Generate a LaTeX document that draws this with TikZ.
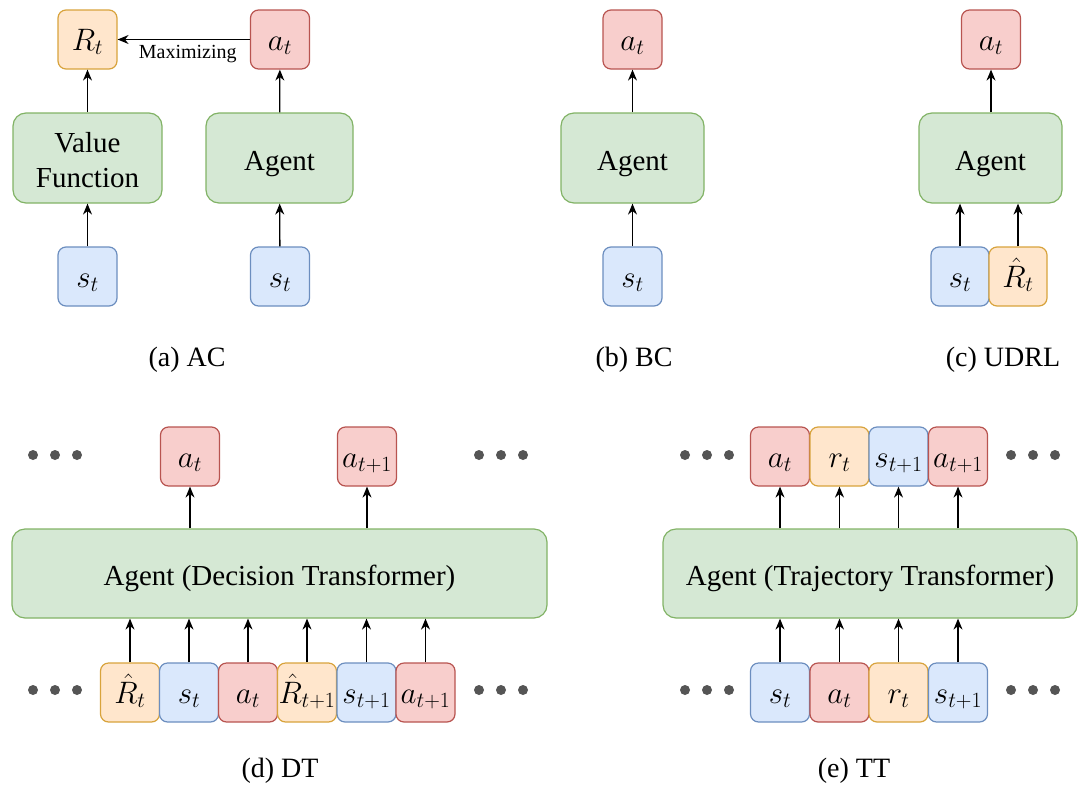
\RequirePackage{fix-cm}
\documentclass[tikz,border=0pt]{standalone}
\usepackage[no-math]{fontspec}
\setmainfont{Liberation Serif}
\usetikzlibrary{arrows.meta}
\definecolor{gfill}{HTML}{D5E8D4}
\definecolor{gdraw}{HTML}{82B366}
\definecolor{rfill}{HTML}{F8CECC}
\definecolor{rdraw}{HTML}{B85450}
\definecolor{bfill}{HTML}{DAE8FC}
\definecolor{bdraw}{HTML}{6C8EBF}
\definecolor{ofill}{HTML}{FFE6CC}
\definecolor{odraw}{HTML}{D8A33C}
\definecolor{dotc}{HTML}{555555}
\newcommand\fsbox{\fontsize{29}{35}\selectfont}
\newcommand\fsmath{\fontsize{31}{36}\selectfont}
\newcommand\fscap{\fontsize{28}{32}\selectfont}
\newcommand\fslab{\fontsize{20}{24}\selectfont}
\tikzset{
  sq/.style={rectangle, rounded corners=8pt, minimum width=59pt, minimum height=59pt, line width=1.2pt, inner sep=0pt, font=\fsmath, text height=26pt, text depth=5pt},
  rbox/.style={sq, fill=rfill, draw=rdraw},
  bbox/.style={sq, fill=bfill, draw=bdraw},
  obox/.style={sq, fill=ofill, draw=odraw},
  big/.style={rectangle, rounded corners=13pt, fill=gfill, draw=gdraw, line width=1.2pt, minimum height=90pt, align=center, inner sep=0pt, font=\fsbox, text height=24pt, text depth=0pt},
  arr/.style={-{Stealth[length=11pt,width=9pt]}, line width=1.3pt},
  dotn/.style={circle, fill=dotc, inner sep=0pt, minimum size=10pt},
  captxt/.style={font=\fscap, inner sep=0pt}
}
\begin{document}
\begin{tikzpicture}[x=1pt,y=-1pt]
\useasboundingbox (0,0) rectangle (1078,790);
% ---------- (a) AC
\node[obox] (Ra) at (87.5,39.5) {$R_t$};
\node[rbox] (aa) at (280,39.5) {$a_t$};
\node[big, minimum width=149pt, text height=58pt] (VF) at (87.5,158) {Value\\Function};
\node[big, minimum width=147pt] (AgA) at (279.5,158) {Agent};
\node[bbox] (sa1) at (87.5,276.5) {$s_t$};
\node[bbox] (sa2) at (280,276.5) {$s_t$};
\draw[arr] (sa1) -- (VF);
\draw[arr] (VF) -- (Ra);
\draw[arr] (sa2) -- (AgA);
\draw[arr] (AgA) -- (aa);
\draw[arr] (aa) -- node[below=5pt, font=\fslab, inner sep=0pt, xshift=4pt] (maxl) {Maximizing} (Ra);
\node[captxt] (capa) at (187,360) {(a) AC};
% ---------- (b) BC
\node[rbox] (ab) at (632.5,39.5) {$a_t$};
\node[big, minimum width=143pt] (AgB) at (632.5,158) {Agent};
\node[bbox] (sb) at (632.5,276.5) {$s_t$};
\draw[arr] (sb) -- (AgB);
\draw[arr] (AgB) -- (ab);
\node[captxt] (capb) at (634,360) {(b) BC};
% ---------- (c) UDRL
\node[rbox] (ac) at (991,39.5) {$a_t$};
\node[big, minimum width=143pt] (AgC) at (990.5,158) {Agent};
\node[bbox, minimum width=58pt] (sc) at (960,276.5) {$s_t$};
\node[obox, minimum width=58pt] (Rc) at (1018,276.5) {$\hat{R}_t$};
\draw[arr] (sc.north) -- (sc.north |- AgC.south);
\draw[arr] (Rc.north) -- (Rc.north |- AgC.south);
\draw[arr] (AgC.north -| ac.south) -- (ac.south);
\node[captxt] (capc) at (1003,360) {(c) UDRL};
% ---------- (d) DT
\node[rbox] (d1) at (190,456.5) {$a_t$};
\node[rbox] (d2) at (367,456.5) {$a_{t+1}$};
\node[big, minimum width=535pt, minimum height=89pt] (AgD) at (279.5,573.5) {Agent (Decision Transformer)};
\node[obox] (e1) at (130,692.5) {$\hat{R}_t$};
\node[bbox] (e2) at (189,692.5) {$s_t$};
\node[rbox] (e3) at (248,692.5) {$a_t$};
\node[obox] (e4) at (307,692.5) {$\hat{R}_{t+1}$};
\node[bbox] (e5) at (366.5,692.5) {$s_{t+1}$};
\node[rbox] (e6) at (425.5,692.5) {$a_{t+1}$};
\foreach \n in {e1,e2,e3,e4,e5,e6} {\draw[arr] (\n.north) -- (\n.north |- AgD.south);}
\foreach \n in {d1,d2} {\draw[arr] (\n.south |- AgD.north) -- (\n.south);}
\node[dotn] (dd1) at (33,455) {}; \node[dotn] (dd2) at (55,455) {}; \node[dotn] (dd3) at (77,455) {};
\node[dotn] (dd4) at (479,455) {}; \node[dotn] (dd5) at (501,455) {}; \node[dotn] (dd6) at (523,455) {};
\node[dotn] (dd7) at (33,690) {}; \node[dotn] (dd8) at (55,690) {}; \node[dotn] (dd9) at (77,690) {};
\node[dotn] (dd10) at (479,690) {}; \node[dotn] (dd11) at (501,690) {}; \node[dotn] (dd12) at (523,690) {};
\node[captxt] (capd) at (280,771) {(d) DT};
% ---------- (e) TT
\node[rbox] (t1) at (780,456.5) {$a_t$};
\node[obox] (t2) at (839.5,456.5) {$r_t$};
\node[bbox] (t3) at (898.5,456.5) {$s_{t+1}$};
\node[rbox] (t4) at (958,456.5) {$a_{t+1}$};
\node[big, minimum width=414pt, minimum height=89pt] (AgE) at (870,573.5) {Agent (Trajectory Transformer)};
\node[bbox] (u1) at (780,692.5) {$s_t$};
\node[rbox] (u2) at (839.5,692.5) {$a_t$};
\node[obox] (u3) at (898.5,692.5) {$r_t$};
\node[bbox] (u4) at (958,692.5) {$s_{t+1}$};
\foreach \n in {u1,u2,u3,u4} {\draw[arr] (\n.north) -- (\n.north |- AgE.south);}
\foreach \n in {t1,t2,t3,t4} {\draw[arr] (\n.south |- AgE.north) -- (\n.south);}
\node[dotn] (de1) at (685,455) {}; \node[dotn] (de2) at (707,455) {}; \node[dotn] (de3) at (729,455) {};
\node[dotn] (de4) at (1011,455) {}; \node[dotn] (de5) at (1033,455) {}; \node[dotn] (de6) at (1055,455) {};
\node[dotn] (de7) at (685,690) {}; \node[dotn] (de8) at (707,690) {}; \node[dotn] (de9) at (729,690) {};
\node[dotn] (de10) at (1011,690) {}; \node[dotn] (de11) at (1033,690) {}; \node[dotn] (de12) at (1055,690) {};
\node[captxt] (cape) at (854,771) {(e) TT};
\end{tikzpicture}
\end{document}
